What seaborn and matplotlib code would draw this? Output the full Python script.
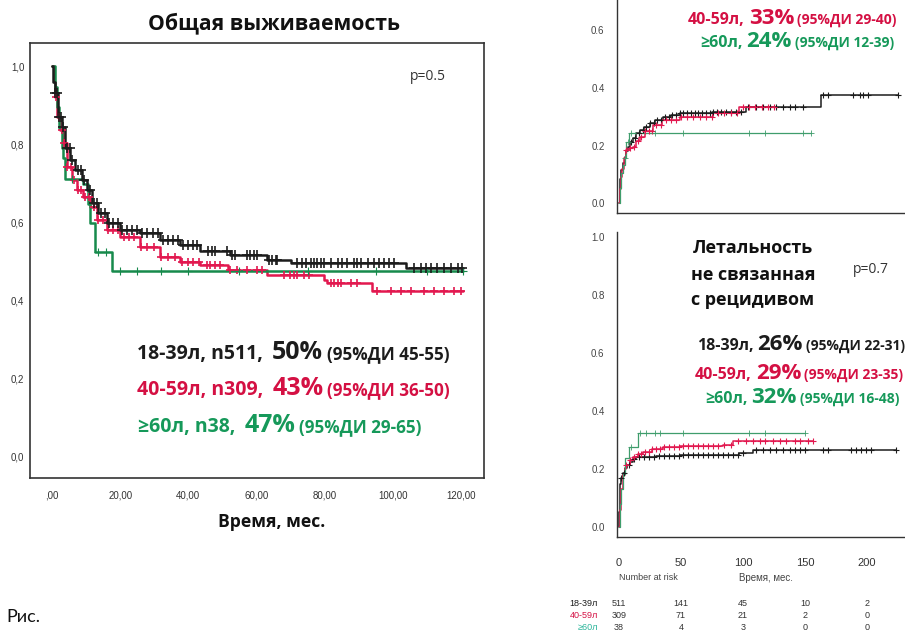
import numpy as np
import pandas as pd
import matplotlib
matplotlib.use("Agg")
import matplotlib.pyplot as plt
import matplotlib.transforms as mtransforms
import seaborn as sns

# ---------------- data ----------------
# Overall survival (left panel), step points (months, probability)
os_young_t = [0, 0.4, 0.9, 1.9, 2.8, 3.8, 5.3, 6.8, 8.7, 10.2, 11.6, 13.6, 16, 20, 25.8, 31.7, 37.6, 43.4, 52.2, 63, 70, 104, 120.5]
os_young_s = [1.0, 0.96, 0.93, 0.87, 0.844, 0.79, 0.76, 0.733, 0.708, 0.682, 0.649, 0.623, 0.597, 0.579, 0.572, 0.554, 0.541, 0.525, 0.515, 0.503, 0.495, 0.482, 0.482]
os_mid_t = [0, 0.5, 1.0, 1.4, 2.3, 3.3, 4.3, 5.8, 7.2, 9.2, 11.2, 13.1, 16, 20, 25.8, 31.7, 37.6, 43.4, 51.5, 63, 79.7, 80.6, 94, 120.6]
os_mid_s = [1.0, 0.96, 0.92, 0.87, 0.836, 0.803, 0.741, 0.708, 0.682, 0.664, 0.638, 0.605, 0.579, 0.562, 0.536, 0.51, 0.497, 0.49, 0.477, 0.464, 0.451, 0.444, 0.423, 0.423]
os_old_t = [0, 0.8, 1.5, 2.2, 2.8, 3.3, 3.8, 9.2, 10.7, 11.2, 12.5, 17.5, 120.6]
os_old_s = [1.0, 0.947, 0.895, 0.842, 0.789, 0.763, 0.711, 0.697, 0.645, 0.597, 0.523, 0.474, 0.474]

os_young_cens = [1.0, 1.5, 2.0, 2.6, 3.2, 4.5, 5.2, 6.0, 7.6, 8.5, 9.4, 11.2, 12.2, 13.2, 14.3, 15.5, 16.8, 18, 19.3, 20.6, 22, 23.5, 25, 26.5, 28, 29.5, 31, 32.5, 34, 35.5, 37, 38.5, 40,
                 41.5, 42.5, 45.9, 46.9, 47.9, 51.3, 52.8, 53.8, 57.2, 58.2, 59.2, 60.2, 63.6, 64.6, 65.6, 66.1, 72, 73.5, 74.4, 75.9, 76.9, 77.9, 78.9, 79.9, 81.8, 83.8, 85.2, 86.7, 88.7, 89.6, 90.6, 92.6, 94.5, 96, 97.5, 98.9, 100.4,
                 106.3, 108.2, 109.7, 111.1, 113.1, 115.1, 117, 119, 120.4]
os_mid_cens = [1.2, 2.0, 2.8, 3.6, 4.5, 5.5, 6.5, 7.5, 8.6, 9.8, 11, 12.3, 13.6, 15, 16.5, 18, 19.5, 21, 22.5, 24, 26, 28, 30, 32, 34, 36, 38, 40,
               41.5, 43, 45.4, 46.4, 47.9, 49.3, 52.3, 54.3, 57.2, 60.2, 61.6, 68, 69.9, 70.9, 71.9, 73.9, 75.3, 81.8, 82.8, 83.8, 84.7, 87.7, 89.6,
               95.5, 99.4, 102.4, 105.3, 109.2, 112.1, 115.1, 118, 120]
os_old_cens = [6, 13.5, 15.8, 20, 25, 32, 40, 55, 75, 95, 110, 120.5]

# Cumulative incidence of relapse (top right)
rel_young_t = [0, 0.5, 1.2, 1.9, 3.0, 4.6, 6.0, 7.3, 9.0, 11.3, 14.0, 16.7, 20.0, 24.7, 29.0, 35.5, 42.0, 49, 75.0, 102.7, 163, 225]
rel_young_v = [0, 0.045, 0.085, 0.115, 0.14, 0.161, 0.18, 0.196, 0.212, 0.226, 0.242, 0.254, 0.266, 0.277, 0.288, 0.3, 0.306, 0.312, 0.318, 0.333, 0.376, 0.376]
rel_mid_t = [0, 0.8, 1.6, 2.5, 4.0, 5.9, 8.5, 11.3, 14.0, 16.7, 21.0, 27.4, 35.0, 49, 75.8, 97, 125]
rel_mid_v = [0, 0.05, 0.09, 0.12, 0.155, 0.184, 0.19, 0.196, 0.215, 0.231, 0.252, 0.271, 0.287, 0.3, 0.312, 0.335, 0.335]
rel_old_t = [0, 1.0, 2.0, 3.0, 4.5, 6.0, 8.0, 155]
rel_old_v = [0, 0.053, 0.105, 0.132, 0.158, 0.211, 0.242, 0.242]

rel_young_cens = [10, 13, 16, 19, 22, 25, 28, 31, 34, 37, 40, 43, 46, 49, 52, 55, 58, 61, 64, 67, 70, 73, 76, 79, 82, 86, 90, 94, 98,
                  104, 110.5, 116, 121.5, 127, 132, 138, 142, 148, 164.5, 168.5, 188.7, 194.4, 196.8, 200.8, 225]
rel_mid_cens = [6, 9, 12, 15, 18, 21, 24, 27, 30, 34, 38, 42, 46, 50, 55, 60, 65, 70, 75, 80, 85, 90, 95, 100, 105, 110, 115, 120, 125]
rel_old_cens = [5, 7, 10, 28.8, 51.6, 105, 117.5, 148.4, 155]

# Non-relapse mortality (bottom right)
nrm_young_t = [0, 0.3, 0.5, 1.2, 1.9, 3.0, 4.6, 6.5, 8.6, 11.0, 14, 30, 49, 97, 108, 223.6]
nrm_young_v = [0, 0.053, 0.122, 0.15, 0.168, 0.185, 0.202, 0.214, 0.225, 0.234, 0.242, 0.245, 0.248, 0.254, 0.266, 0.266]
nrm_mid_t = [0, 0.5, 1.5, 3, 4.5, 5.9, 8.5, 11.3, 15.0, 19.4, 27.0, 35.5, 49, 84, 92, 156.5]
nrm_mid_v = [0, 0.06, 0.13, 0.18, 0.2, 0.214, 0.23, 0.242, 0.252, 0.26, 0.27, 0.277, 0.28, 0.283, 0.298, 0.298]
nrm_old_t = [0, 0.8, 1.5, 3, 5, 8, 15.3, 150]
nrm_old_v = [0, 0.079, 0.132, 0.184, 0.237, 0.276, 0.323, 0.323]

nrm_young_cens = [2, 4, 8, 12, 16, 20, 24, 28, 32, 36, 40, 44, 48, 52, 56, 60, 64, 68, 72, 76, 80, 84, 88, 92, 96, 100,
                  110.7, 116.1, 121.5, 126.9, 132.3, 137.7, 141.7, 145.7, 149.8, 164.5, 168.5, 187.4, 191.4, 195.4, 199.4, 203.5, 223.6]
nrm_mid_cens = [6, 9, 12, 15, 18, 21, 24, 27, 30, 33, 36, 40, 44, 48, 52, 56, 60, 64, 68, 72, 76, 80, 85, 90,
                96, 102.7, 108, 113.5, 117.5, 124.2, 129.6, 134.9, 141.7, 145.7, 152.4, 156.5]
nrm_old_cens = [9.4, 16.7, 22, 28.8, 32.8, 51.6, 105, 117.5, 150]

# Axis tick labels
left_xticks = [0, 20, 40, 60, 80, 100, 120]
left_xlabels = [",00", "20,00", "40,00", "60,00", "80,00", "100,00", "120,00"]
left_yticks = [0.0, 0.2, 0.4, 0.6, 0.8, 1.0]
left_ylabels = ["0,0", "0,2", "0,4", "0,6", "0,8", "1,0"]
right_xticks = [0, 50, 100, 150, 200]
top_yticks = [0.0, 0.2, 0.4, 0.6]
top_ylabels = ["0.0", "0.2", "0.4", "0.6"]
bot_yticks = [0.0, 0.2, 0.4, 0.6, 0.8, 1.0]
bot_ylabels = ["0.0", "0.2", "0.4", "0.6", "0.8", "1.0"]

# Number at risk table
risk_groups = ["18-39л", "40-59л", "≥60л"]
risk_times = [0, 50, 100, 150, 200]
risk_young = [511, 141, 45, 10, 2]
risk_mid = [309, 71, 21, 2, 0]
risk_old = [38, 4, 3, 0, 0]

# ---------------- style ----------------
sns.set_style("white")
FAM = ["Open Sans", "DejaVu Sans"]
NARROW = ["Liberation Sans Narrow", "Liberation Sans", "DejaVu Sans"]
plt.rcParams["font.family"] = FAM

BLACK = "#1c1c1c"
RED = "#e2184f"
GREEN = "#178a4c"
GREEN_R = "#3f9d6c"
TXT_RED = "#d41043"
TXT_GREEN = "#16995a"

W, H = 905, 636
fig = plt.figure(figsize=(W / 100, H / 100), dpi=100)
fig.patch.set_facecolor("white")


def fx(px):
    return px / W


def fy(py):
    return 1 - py / H


def add_ax(l, t, r, b):
    return fig.add_axes([fx(l), fy(b), (r - l) / W, (b - t) / H])


def km(ax, t, v, cens, color, lw, ms, mew):
    df = pd.DataFrame({"t": t, "v": v})
    sns.lineplot(data=df, x="t", y="v", drawstyle="steps-post", color=color, lw=lw,
                 ax=ax, estimator=None, sort=False, legend=False)
    ct = np.asarray(cens, dtype=float)
    idx = np.searchsorted(np.asarray(t, dtype=float), ct, side="right") - 1
    cy = np.asarray(v)[idx]
    sns.scatterplot(x=ct, y=cy, marker="+", s=ms, color=color, linewidth=mew,
                    ax=ax, legend=False, zorder=3)


# ---------------- left panel ----------------
axL = add_ax(30, 43, 484, 478)
km(axL, os_mid_t, os_mid_s, os_mid_cens, RED, 1.8, 40, 1.2)
km(axL, os_old_t, os_old_s, os_old_cens, GREEN, 1.8, 30, 0.8)
km(axL, os_young_t, os_young_s, os_young_cens, BLACK, 1.8, 45, 1.2)
axL.set_xlim((30 - 52) / 3.408, (484 - 52) / 3.408)
axL.set_ylim((456 - 478) / 390, (456 - 43) / 390)
axL.set_xticks(left_xticks)
axL.set_xticklabels(left_xlabels, family=NARROW, fontsize=7, color="#333")
axL.set_yticks(left_yticks)
axL.set_yticklabels(left_ylabels, family=NARROW, fontsize=7, color="#333")
axL.tick_params(direction="out", length=3, width=0.8, pad=6, color="#333")
axL.tick_params(axis="y", pad=1)
axL.set_xlabel("")
axL.set_ylabel("")
for sp in axL.spines.values():
    sp.set_visible(True)
    sp.set_color("#333")
    sp.set_linewidth(1.2)

# ---------------- right panels ----------------
xr0 = (617 - 619) / 1.24
xr1 = (935 - 619) / 1.24
axT = add_ax(617, -96, 935, 213)
km(axT, rel_young_t, rel_young_v, rel_young_cens, BLACK, 1.1, 20, 0.8)
km(axT, rel_mid_t, rel_mid_v, rel_mid_cens, RED, 1.1, 20, 0.8)
km(axT, rel_old_t, rel_old_v, rel_old_cens, GREEN_R, 0.9, 16, 0.6)
axT.set_xlim(xr0, xr1)
axT.set_ylim((203 - 213) / 287.5, (203 + 96) / 287.5)

axB = add_ax(617, 232, 935, 537)
km(axB, nrm_young_t, nrm_young_v, nrm_young_cens, BLACK, 1.1, 20, 0.8)
km(axB, nrm_mid_t, nrm_mid_v, nrm_mid_cens, RED, 1.1, 20, 0.8)
km(axB, nrm_old_t, nrm_old_v, nrm_old_cens, GREEN_R, 0.9, 16, 0.6)
axB.set_xlim(xr0, xr1)
axB.set_ylim((527 - 537) / 290, (527 - 232) / 290)

for ax, yt, yl in ((axT, top_yticks, top_ylabels), (axB, bot_yticks, bot_ylabels)):
    sns.despine(ax=ax, top=True, right=True)
    for s in ("left", "bottom"):
        ax.spines[s].set_color("#333")
        ax.spines[s].set_linewidth(1.0)
    ax.set_xticks(right_xticks)
    ax.set_yticks(yt)
    ax.set_yticklabels(yl, family=NARROW, fontsize=7, color="#444")
    ax.tick_params(direction="out", length=4, width=0.8, color="#333")
    ax.tick_params(axis="y", pad=5)
    ax.set_xlabel("")
    ax.set_ylabel("")
axT.set_xticklabels([])
axB.set_xticklabels([str(v) for v in right_xticks], family=NARROW, fontsize=8, color="#333")
axB.tick_params(axis="x", pad=11)

# ---------------- texts ----------------
renderer = fig.canvas.get_renderer()


def rich(x_px, y_px, parts, gaps, family=FAM, weight="bold"):
    off = 0.0
    for i, (s, size, col) in enumerate(parts):
        tr = mtransforms.offset_copy(fig.transFigure, fig=fig, x=off, y=0, units="dots")
        t = fig.text(fx(x_px), fy(y_px), s, transform=tr, fontsize=size, color=col,
                     family=family, fontweight=weight, ha="left", va="baseline")
        off += t.get_window_extent(renderer).width + (gaps[i] if i < len(gaps) else 0)


fig.text(fx(274), fy(29), "Общая выживаемость", fontsize=15.2, fontweight="bold",
         color="#111", ha="center", va="baseline")
fig.text(fx(272), fy(527), "Время, мес.", fontsize=12.6, fontweight="bold",
         color="#111", ha="center", va="baseline")
fig.text(fx(410), fy(80), "p=0.5", fontsize=10, color="#333", ha="left", va="baseline")

LG = [9, 4]
rich(137, 359, [("18-39л, n511,", 14, BLACK), ("50%", 18, BLACK), ("(95%ДИ 45-55)", 12.3, BLACK)], LG)
rich(137, 395, [("40-59л, n309,", 14, TXT_RED), ("43%", 18, TXT_RED), ("(95%ДИ 36-50)", 12.3, TXT_RED)], LG)
rich(138, 432, [("≥60л, n38,", 14, TXT_GREEN), ("47%", 18, TXT_GREEN), ("(95%ДИ 29-65)", 12.3, TXT_GREEN)], LG)

RG = [4, 3]
rich(688, 24, [("40-59л,", 11.5, TXT_RED), ("33%", 16, TXT_RED), ("(95%ДИ 29-40)", 10, TXT_RED)], RG)
rich(700, 47, [("≥60л,", 11.5, TXT_GREEN), ("24%", 16, TXT_GREEN), ("(95%ДИ 12-39)", 10, TXT_GREEN)], RG)

for yb, s in zip([253, 280, 305], ["Летальность", "не связанная", "с рецидивом"]):
    fig.text(fx(753), fy(yb), s, fontsize=13, fontweight="bold", color="#111",
             ha="center", va="baseline")
fig.text(fx(853), fy(273), "p=0.7", fontsize=10, color="#333", ha="left", va="baseline")

rich(697, 350, [("18-39л,", 11.5, BLACK), ("26%", 16, BLACK), ("(95%ДИ 22-31)", 10, BLACK)], RG)
rich(695, 379, [("40-59л,", 11.5, TXT_RED), ("29%", 16, TXT_RED), ("(95%ДИ 23-35)", 10, TXT_RED)], RG)
rich(705, 403, [("≥60л,", 11.5, TXT_GREEN), ("32%", 16, TXT_GREEN), ("(95%ДИ 16-48)", 10, TXT_GREEN)], RG)

# number at risk
fig.text(fx(648), fy(578), "Number at risk", fontsize=6.5, family=NARROW, color="#444",
         ha="center", va="center")
fig.text(fx(766), fy(578), "Время, мес.", fontsize=7, family=NARROW, color="#444",
         ha="center", va="center")
blend = mtransforms.blended_transform_factory(axB.transData, fig.transFigure)
row_y = [603, 615, 627]
row_cols = [BLACK, TXT_RED, "#2bb59a"]
for grp, vals, yy, col in zip(risk_groups, [risk_young, risk_mid, risk_old], row_y, row_cols):
    fig.text(fx(598), fy(yy), grp, fontsize=6.5, family=NARROW, color=col, ha="right", va="center")
    for tt, vv in zip(risk_times, vals):
        fig.text(tt, fy(yy), str(vv), transform=blend, fontsize=6.5, family=NARROW,
                 color="#333", ha="center", va="center")

fig.text(fx(6), fy(622), "Рис.", fontsize=13, family=["Lato", "DejaVu Sans"], color="#111",
         ha="left", va="baseline")

fig.savefig("out.png", dpi=100, facecolor="white")
